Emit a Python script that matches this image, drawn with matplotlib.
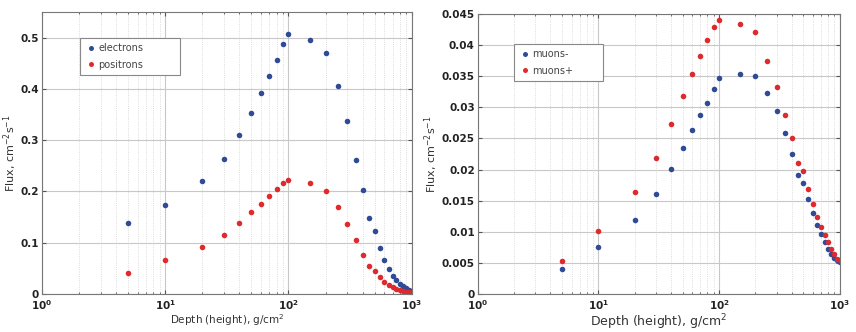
import numpy as np
import matplotlib
matplotlib.use('Agg')
import matplotlib.pyplot as plt
from matplotlib.ticker import FuncFormatter, LogLocator, MultipleLocator

# depths in g/cm^2
depth = [5, 10, 20, 30, 40, 50, 60, 70, 80, 90, 100, 150, 200, 250, 300, 350, 400,
         450, 500, 550, 600, 650, 700, 750, 800, 850, 900, 950, 1000]

electrons = [0.138, 0.1745, 0.221, 0.264, 0.31, 0.352, 0.391, 0.426, 0.456, 0.488, 0.507,
             0.495, 0.469, 0.406, 0.337, 0.261, 0.2025, 0.148, 0.122, 0.089, 0.066, 0.049,
             0.036, 0.027, 0.020, 0.015, 0.011, 0.008, 0.006]
positrons = [0.0417, 0.066, 0.092, 0.116, 0.139, 0.159, 0.176, 0.191, 0.204, 0.216, 0.222,
             0.216, 0.2005, 0.1706, 0.137, 0.105, 0.077, 0.055, 0.044, 0.033, 0.024, 0.017,
             0.013, 0.010, 0.007, 0.005, 0.004, 0.003, 0.0026]

muons_minus = [0.00396, 0.0076, 0.0119, 0.0160, 0.0201, 0.0235, 0.0263, 0.0287, 0.0307,
               0.0329, 0.0347, 0.0354, 0.0351, 0.0323, 0.0294, 0.0259, 0.0225, 0.0192,
               0.0178, 0.0152, 0.0130, 0.0111, 0.0096, 0.0084, 0.0073, 0.0065, 0.0058,
               0.0054, 0.0051]
muons_plus = [0.00536, 0.0102, 0.0164, 0.0219, 0.0273, 0.0318, 0.0353, 0.0383, 0.0408,
              0.0429, 0.0440, 0.0434, 0.0421, 0.0374, 0.0333, 0.0288, 0.0250, 0.0211,
              0.0197, 0.0168, 0.0144, 0.0123, 0.0107, 0.0094, 0.0083, 0.0072, 0.0064,
              0.0057, 0.0054]

BLUE = '#2f4b96'
RED = '#de2a2e'

fig = plt.figure(figsize=(8.56, 3.32), dpi=100)
ax1 = fig.add_axes([0.049, 0.1145, 0.432, 0.8495])
ax2 = fig.add_axes([0.558, 0.1145, 0.423, 0.8435])


def log_fmt(x, pos):
    return r'$\mathbf{10^{%d}}$' % int(round(np.log10(x)))


def style(ax, ymax, ystep, yfmt, xlab_size):
    ax.set_xscale('log')
    ax.set_xlim(1, 1000)
    ax.set_ylim(0, ymax)
    ax.xaxis.set_major_locator(LogLocator(base=10, numticks=5))
    ax.xaxis.set_minor_locator(LogLocator(base=10, subs=np.arange(2, 10), numticks=20))
    ax.xaxis.set_major_formatter(FuncFormatter(log_fmt))
    ax.yaxis.set_major_locator(MultipleLocator(ystep))
    ax.yaxis.set_major_formatter(FuncFormatter(yfmt))
    ax.grid(True, which='major', color='#c8c8c8', lw=0.8, ls='-')
    ax.grid(True, which='minor', axis='x', color='#d0d0d0', lw=0.6, ls=':')
    ax.set_axisbelow(True)
    ax.tick_params(which='both', direction='in', top=True, right=True, labelsize=7.5,
                   colors='#555555', labelcolor='#222222', length=3, pad=2)
    ax.tick_params(axis='x', which='major', pad=3)
    ax.tick_params(which='minor', length=1.5)
    for lab in ax.get_yticklabels():
        lab.set_fontweight('bold')
    for s in ax.spines.values():
        s.set_color('#777777')
        s.set_linewidth(0.8)
    ax.set_xlabel('Depth (height), g/cm$^2$', fontsize=xlab_size, color='#333333', labelpad=0)
    ax.set_ylabel('Flux, cm$^{-2}$s$^{-1}$', fontsize=8, color='#333333', labelpad=1)


def add_legend(ax, box):
    leg = ax.legend(loc='upper left', bbox_to_anchor=box, mode='expand', borderaxespad=0,
                    fontsize=7, frameon=True, fancybox=False, edgecolor='#888888',
                    framealpha=1, handletextpad=0.1, borderpad=0.55, labelspacing=0.65,
                    handlelength=1.2, markerscale=0.9)
    leg.get_frame().set_linewidth(0.8)
    for t in leg.get_texts():
        t.set_color('#444444')


style(ax1, 0.55, 0.1, lambda v, p: '0' if v == 0 else '%g' % round(v, 2), 7.5)
ax1.plot(depth, electrons, 'o', color=BLUE, ms=4, mec='none', label='electrons')
ax1.plot(depth, positrons, 'o', color=RED, ms=4, mec='none', label='positrons')
add_legend(ax1, (0.103, 0.773, 0.27, 0.135))

style(ax2, 0.045, 0.005, lambda v, p: '0' if v == 0 else '%g' % round(v, 3), 9)
ax2.plot(depth, muons_minus, 'o', color=BLUE, ms=4, mec='none', label='muons-')
ax2.plot(depth, muons_plus, 'o', color=RED, ms=4, mec='none', label='muons+')
add_legend(ax2, (0.1, 0.772, 0.246, 0.121))

fig.savefig('out.png', dpi=100)
